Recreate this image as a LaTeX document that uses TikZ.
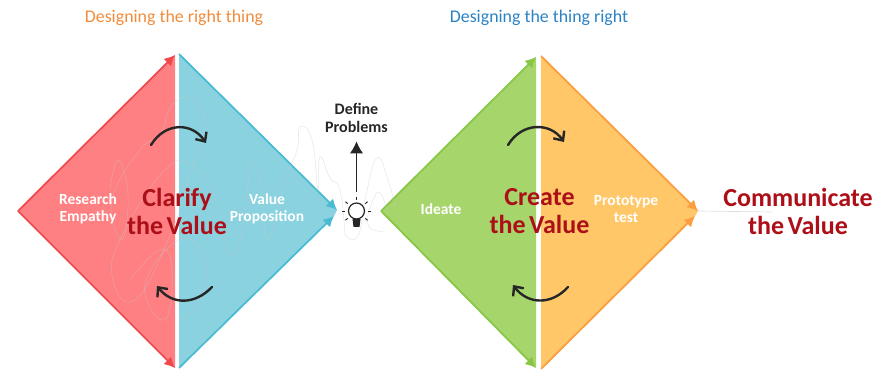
\documentclass[tikz,border=0pt]{standalone}
\usepackage{fontspec}
\setmainfont{Carlito}
\usetikzlibrary{arrows.meta}
\definecolor{redfill}{HTML}{FF8082}
\definecolor{rededge}{HTML}{EE4A4E}
\definecolor{bluefill}{HTML}{8AD2E0}
\definecolor{blueedge}{HTML}{48BBD2}
\definecolor{greenfill}{HTML}{A6D56C}
\definecolor{greenedge}{HTML}{88C646}
\definecolor{orangefill}{HTML}{FFC768}
\definecolor{orangeedge}{HTML}{FB9E40}
\definecolor{valuered}{HTML}{AC0F18}
\definecolor{scribble}{HTML}{C8C8C8}
\definecolor{righttitle}{HTML}{F08C3C}
\definecolor{thingtitle}{HTML}{2B82C4}
\tikzset{
  edge/.style={->,line width=1.3pt,>={Latex[length=8pt,width=8pt]}},
  turn/.style={->,line width=1.8pt,black!85,line cap=round,>={Straight Barb[length=5.5pt,width=10pt,line width=1.8pt]}},
  worry/.style={scribble,line width=0.4pt,opacity=0.45,smooth,tension=0.8},
  title/.style={font=\fontsize{13.4}{15}\selectfont},
  small/.style={white,align=center,font=\bfseries\fontsize{11.6}{12.5}\selectfont},
  value/.style={valuered,align=center,font=\bfseries\fontsize{19.5}{21}\selectfont},
  ray/.style={black!85,line width=0.7pt}
}
\newcommand{\theValue}{the\kern2.5pt Value}
\begin{document}
\begin{tikzpicture}[x=0.75pt,y=-0.75pt]
\useasboundingbox (0,0) rectangle (894,370);

%corners
\coordinate (redL) at (18,211);
\coordinate (redT) at (175,55);
\coordinate (redB) at (175,368);
\coordinate (blueT) at (179,54);
\coordinate (blueB) at (179,368);
\coordinate (blueR) at (337,210);
\coordinate (blueR2) at (334,216);
\coordinate (greenL) at (381,211);
\coordinate (greenT) at (536,57);
\coordinate (greenB) at (536,368);
\coordinate (orangeT) at (541,56);
\coordinate (orangeB) at (541,369);
\coordinate (orangeR) at (698,211);
\coordinate (orangeR2) at (695,216);
\coordinate (lineend) at (772,212);

%halves
\fill[redfill] (redL)--(redT)--(redB)--cycle;
\fill[bluefill] (blueT)--(blueR)--(blueR2)--(blueB)--cycle;
\fill[greenfill] (greenL)--(greenT)--(greenB)--cycle;
\fill[orangefill] (orangeT)--(orangeR)--(orangeR2)--(orangeB)--cycle;

%outer lines
\draw[edge,rededge] (redL)--(redT);
\draw[edge,rededge] (redL)--(redB);
\draw[edge,blueedge] (blueT)--(blueR);
\draw[edge,blueedge] (blueB)--(blueR2);
\draw[edge,greenedge] (greenL)--(greenT);
\draw[edge,greenedge] (greenL)--(greenB);
\draw[edge,orangeedge] (orangeT)--(orangeR);
\draw[edge,orangeedge] (orangeB)--(orangeR2);

%scribbles
\draw[worry] plot coordinates {(110,190) (118,160) (128,195) (122,240) (112,200) (140,150) (160,135) (172,105) (195,100) (205,130) (190,175) (170,235) (135,300) (112,275) (125,230) (165,170) (190,165) (212,190) (222,230) (235,255) (245,210) (252,160) (262,190) (268,240) (285,180) (297,150) (300,127) (312,140) (318,190) (320,157) (330,178) (340,190) (345,235)};
\draw[worry] plot coordinates {(130,280) (160,250) (172,270) (165,320) (145,285) (180,240) (205,260) (200,300) (180,320)};
\draw[worry] plot coordinates {(345,235) (358,236) (366,195) (377,158) (388,180) (395,207)};
\draw[worry] plot coordinates {(366,222) (378,192) (388,215)};
\draw[worry] plot coordinates {(368,218) (370,228) (384,232)};
\draw[scribble,line width=0.5pt,opacity=0.6] (orangeR)--(lineend);

%curved arrows
\coordinate (redfrom) at (151,145);
\coordinate (redto) at (206,143);
\coordinate (bluefrom) at (212,287);
\coordinate (blueto) at (157,286);
\coordinate (greenfrom) at (508,145);
\coordinate (greento) at (564,142);
\coordinate (orangefrom) at (568,287);
\coordinate (orangeto) at (513,285);
\draw[turn] (redfrom) .. controls (165,122) and (192,122) .. (redto);
\draw[turn] (bluefrom) .. controls (195,305) and (172,305) .. (blueto);
\draw[turn] (greenfrom) .. controls (522,122) and (550,122) .. (greento);
\draw[turn] (orangefrom) .. controls (552,305) and (528,305) .. (orangeto);

%bulb
\node[circle,draw=black!85,line width=0.9pt,inner sep=0pt,minimum size=12pt] (bulb) at (356.5,211) {};
\fill[black!85] (352.5,219)--(360.5,219)--(359.5,227)--(353.5,227)--cycle;
\foreach \a in {-40,0,40,90,140,180,220}
  \draw[ray] (bulb.center)++(\a:8.6pt)--++(\a:2.2pt);

%labels
\node[title,text=righttitle] (rightthing) at (174,17.5) {Designing the right thing};
\node[title,text=thingtitle] (thingright) at (539,17.5) {Designing the thing right};
\node[align=center,black!85,font=\bfseries\fontsize{12}{13.5}\selectfont] (define) at (356.5,118) {Define\\Problems};
\node[small] (research) at (88,209) {Research\\Empathy};
\node[small] (proposition) at (267,209) {Value\\Proposition};
\node[small] (ideate) at (441,209.5) {Ideate};
\node[small] (prototype) at (626,209) {Prototype\\test};
\node[value] (clarify) at (177,211) {Clarify\\\theValue};
\node[value] (create) at (539.5,211) {Create\\\theValue};
\node[value] (communicate) at (798,211) {Communicate\\\theValue};

\draw[->,line width=0.8pt,black!85,>={Latex[length=9pt,width=10pt]},shorten <=7.5pt,shorten >=3pt] (bulb)--(define);
\end{tikzpicture}
\end{document}
